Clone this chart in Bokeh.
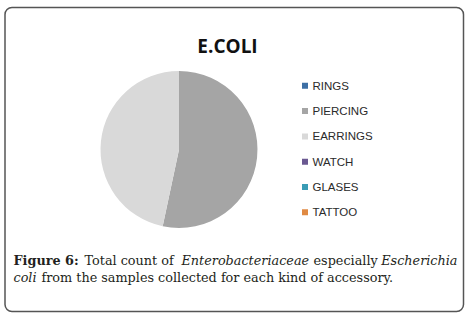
from math import pi
import numpy as np
from bokeh.plotting import figure
from bokeh.models import ColumnDataSource
from bokeh.core.properties import value
from bokeh.embed import file_html
from bokeh.resources import INLINE

# ---- data ----
categories = ["RINGS", "PIERCING", "EARRINGS", "WATCH", "GLASES", "TATTOO"]
counts = [0, 8, 7, 0, 0, 0]
colors = ["#3d6fa5", "#a5a5a5", "#d9d9d9", "#6a5891", "#3a9cb5", "#e08a43"]
title_text = "E.COLI"

W, H = 472, 318
p = figure(width=W, height=H, x_range=(0, W), y_range=(0, H),
           output_backend="svg", toolbar_location=None, min_border=0)
p.axis.visible = False
p.grid.visible = False
p.outline_line_color = None
p.background_fill_color = "white"
p.border_fill_color = "white"

# outer rounded frame
p.quad(left=4.5, right=463, bottom=7, top=311, fill_color=None,
       line_color="#555555", line_width=1.5, border_radius=7)

# pie (only non-zero slices are drawn)
total = float(sum(counts))
frac = np.array(counts) / total
cum = np.concatenate([[0], np.cumsum(frac)])
start = pi / 2 - 2 * pi * cum[:-1]
end = pi / 2 - 2 * pi * cum[1:]
keep = [i for i, c in enumerate(counts) if c > 0]
src = ColumnDataSource(dict(cat=[categories[i] for i in keep],
                            start=[start[i] for i in keep],
                            end=[end[i] for i in keep],
                            color=[colors[i] for i in keep]))
cx, cy, r = 178.5, 169, 78.5
p.wedge(x=cx, y=cy, radius=r, start_angle="start", end_angle="end",
        direction="clock", fill_color="color", line_color=None, source=src)

# title
p.text(x=[227], y=[273], text=[title_text], text_font=value("Open Sans"),
       text_font_style="bold", text_font_size="19px", text_color="#111111",
       text_align="center", text_baseline="alphabetic")

# legend
n = len(categories)
ly = [318 - (85.3 + 25.3 * i) for i in range(n)]
lsrc = ColumnDataSource(dict(x=[304.5] * n, tx=[312] * n, y=ly, cat=categories, color=colors))
p.scatter(x="x", y="y", marker="square", size=6, fill_color="color",
          line_color=None, source=lsrc)
p.text(x="tx", y="y", text="cat", text_font=value("Liberation Sans"),
       text_font_size="11.5px", text_color="#2a2a2a", text_baseline="middle",
       text_align="left", source=lsrc)

# caption
cap_font = value("DejaVu Serif")
fs = "12.8px"
col = "#231f20"
y1, y2 = 318 - 260, 318 - 277
line1 = [("Figure 6:", 13, "bold"), ("Total count of", 84, "normal"),
         ("Enterobacteriaceae", 181, "italic"), ("especially", 313, "normal"),
         ("Escherichia", 457, "italic")]
for txt, x, st in line1:
    align = "right" if txt == "Escherichia" else "left"
    p.text(x=[x], y=[y1], text=[txt], text_font=cap_font, text_font_size=fs,
           text_font_style=st, text_color=col, text_baseline="alphabetic",
           text_align=align)
p.text(x=[13], y=[y2], text=["coli"], text_font=cap_font, text_font_size=fs,
       text_font_style="italic", text_color=col, text_baseline="alphabetic")
p.text(x=[41], y=[y2], text=["from the samples collected for each kind of accessory."],
       text_font=cap_font, text_font_size=fs, text_color=col,
       text_baseline="alphabetic")

open("out.html", "w").write(file_html(p, INLINE))
